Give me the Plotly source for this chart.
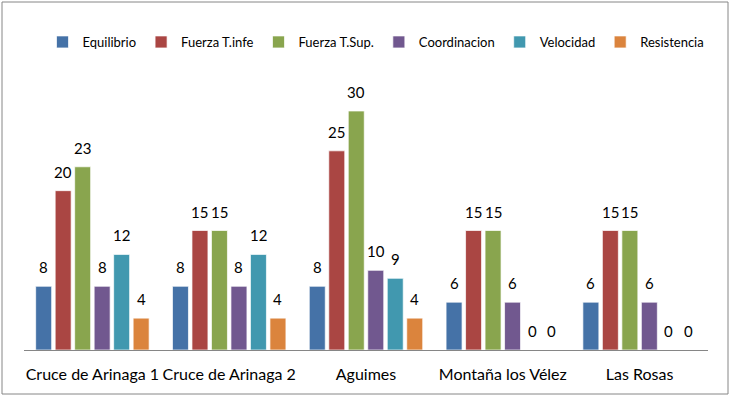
import plotly.graph_objects as go

categories = ["Cruce de Arinaga 1", "Cruce de Arinaga 2", "Aguimes", "Montaña los Vélez", "Las Rosas"]
series_names = ["Equilibrio", "Fuerza T.infe", "Fuerza T.Sup.", "Coordinacion", "Velocidad", "Resistencia"]
equilibrio = [8, 8, 8, 6, 6]
fuerza_inf = [20, 15, 25, 15, 15]
fuerza_sup = [23, 15, 30, 15, 15]
coordinacion = [8, 8, 10, 6, 6]
velocidad = [12, 12, 9, 0, 0]
resistencia = [4, 4, 4, 0, 0]
colors = ["#4572A7", "#AA4643", "#89A54E", "#71588F", "#4198AF", "#DB843D"]

values = [equilibrio, fuerza_inf, fuerza_sup, coordinacion, velocidad, resistencia]
FONT = "Lato, Carlito, Calibri, sans-serif"

L, R, T, B = 24, 24, 111, 47
W, H = 732, 397
pw, ph = W - L - R, H - T - B
BARGAP, GROUPGAP = 0.145, 0.18
n = len(series_names)
slot_px = pw / len(categories) * (1 - BARGAP) / n

fig = go.Figure()
annotations = []
for j, (name, vals, col) in enumerate(zip(series_names, values, colors)):
    fig.add_trace(go.Bar(
        name=name, x=categories, y=vals,
        marker=dict(color=col, line=dict(color="rgba(255,255,255,0.7)", width=1)),
    ))
    for c, v in zip(categories, vals):
        annotations.append(dict(
            x=c, y=v, xref="x", yref="y", text=str(v), showarrow=False,
            xshift=(j - (n - 1) / 2) * slot_px, yshift=19, yanchor="middle",
            font=dict(family=FONT, size=15, color="#000000"),
        ))

fig.update_layout(
    width=W, height=H,
    margin=dict(l=L, r=R, t=T, b=B, pad=0),
    barmode="group", bargap=BARGAP, bargroupgap=GROUPGAP,
    paper_bgcolor="white", plot_bgcolor="white",
    font=dict(family=FONT, color="#000000"),
    showlegend=True,
    legend=dict(orientation="h", x=(376 - L) / pw, xanchor="center",
                y=(H - B - 42) / ph, yanchor="middle",
                font=dict(family=FONT, size=13, color="#000000"),
                itemwidth=30, tracegroupgap=0, bgcolor="rgba(0,0,0,0)"),
    xaxis=dict(showgrid=False, showline=True, linecolor="#868686", linewidth=1,
               ticks="", tickfont=dict(family=FONT, size=16, color="#000000"),
               ticklabelstandoff=10, zeroline=False),
    yaxis=dict(range=[0, 30], visible=False, showgrid=False, zeroline=False),
    annotations=annotations,
    shapes=[dict(type="rect", xref="paper", yref="paper",
                 x0=(2 - L) / pw, x1=(728 - L) / pw,
                 y0=(H - B - 394) / ph, y1=(H - B - 2) / ph,
                 line=dict(color="#868686", width=1), layer="below")],
)

fig.write_html("out.html", config={"displayModeBar": False},
               post_script="document.body.style.margin='0';")
